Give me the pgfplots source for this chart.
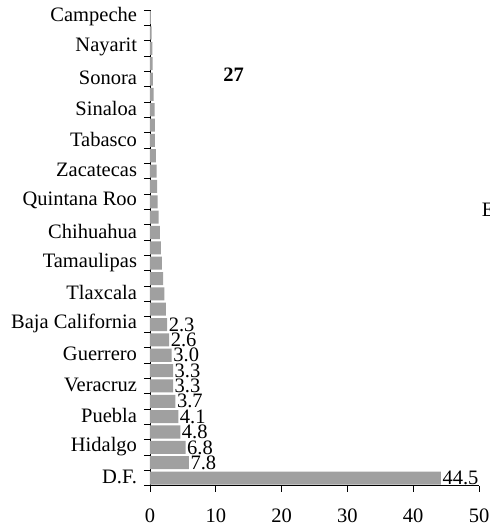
\documentclass[border=0pt]{standalone}
\usepackage{pgfplots}
\pgfplotsset{compat=1.18}
\usepackage{pgfplotstable}
\usepackage{fontspec}
\setmainfont{Liberation Serif}
\definecolor{bargray}{HTML}{A0A0A0}
\pgfplotstableread{
i v
11 2.4
12 2.2
13 2.0
14 1.8
15 1.67
16 1.5
17 1.3
18 1.15
19 1.1
20 1.0
21 0.9
22 0.75
23 0.75
24 0.7
25 0.55
26 0.45
27 0.4
28 0.35
29 0.25
30 0.15
}\unlabeled
\pgfplotstableread{
i v l
0 44.2 44.5
1 5.9 7.8
2 5.4 6.8
3 4.6 4.8
4 4.3 4.1
5 3.85 3.7
6 3.5 3.3
7 3.5 3.3
8 3.3 3.0
9 2.9 2.6
10 2.6 2.3
}\labeled
\begin{document}
\fontsize{20.5bp}{24bp}\selectfont
\begin{tikzpicture}[x=1bp,y=1bp]
\begin{axis}[
  at={(0,0)}, anchor=south west,
  scale only axis, width=329bp, height=475.7bp,
  xmin=0, xmax=50, ymin=-0.5, ymax=30.5,
  xbar, bar width=0.85, bar shift=0pt,
  axis x line*=bottom, axis y line*=left,
  axis line style={line width=0.8bp, black},
  xtick={0,10,...,50},
  tick align=outside, major tick length=6bp, minor tick length=6bp,
  tick style={line width=0.8bp, black},
  ytick={0,2,...,30},
  yticklabels={D.F.,Hidalgo,Puebla,Veracruz,Guerrero,Baja California,Tlaxcala,Tamaulipas,Chihuahua,Quintana Roo,Zacatecas,Tabasco,Sinaloa,Sonora,Nayarit,Campeche},
  major y tick style={draw=none},
  minor ytick={-0.5,0.5,...,30.5},
  /pgf/number format/assume math mode=true,
  tick label style={font=\fontsize{20.5bp}{24bp}\selectfont},
  yticklabel style={yshift=1bp},
  xticklabel style={yshift=-10bp},
  clip=false,
]
\addplot[fill=bargray, draw=none] table[x=v, y=i] {\unlabeled};
\addplot[fill=bargray, draw=none,
  point meta=explicit symbolic,
  nodes near coords,
  nodes near coords style={anchor=west, inner xsep=1.5bp, inner ysep=0pt, font=\fontsize{20.5bp}{24bp}\selectfont, black}]
  table[x=v, y=i, meta=l] {\labeled};
\node[font=\fontsize{20.5bp}{24bp}\selectfont\bfseries] at (axis cs:12.7,26.27) {27};
\node[anchor=west, inner sep=0pt, font=\fontsize{20.5bp}{24bp}\selectfont] at (axis cs:50.4,17.47) {E};
\end{axis}
\pgfresetboundingbox
\path (-150,-40.3) rectangle (340,485.7);
\end{tikzpicture}
\end{document}
